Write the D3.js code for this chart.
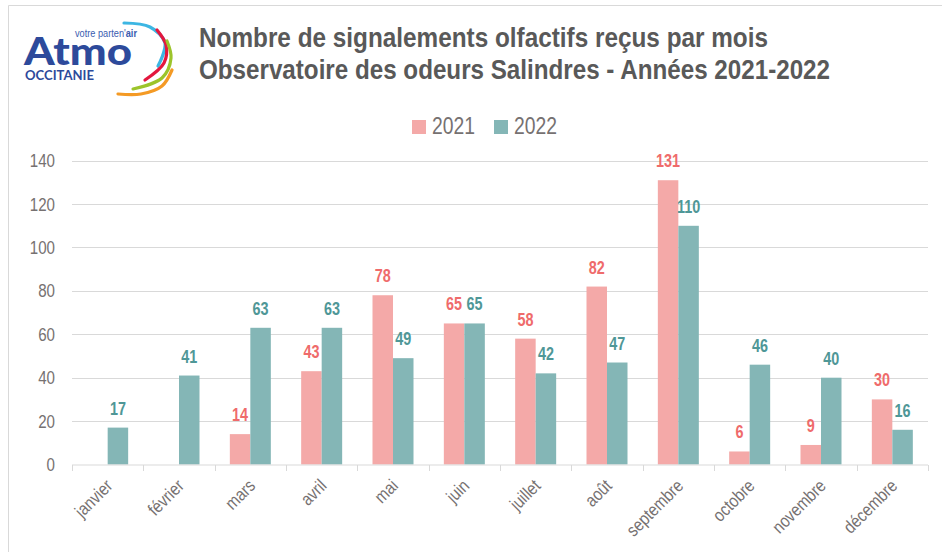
<!DOCTYPE html>
<html lang="fr">
<head>
    <meta charset="UTF-8">
    <script src="https://d3js.org/d3.v7.min.js"></script>
</head>
<style>
    body { margin: 0; background: white; }
    svg { display: block; }
    .narrow { font-family: "Liberation Sans Narrow", "Arial Narrow", "Liberation Sans", sans-serif; }
    .grid line { stroke: #d9d9d9; }
</style>
<body>
<div class="chart"></div>
<script>
    const months = ['janvier', 'février', 'mars', 'avril', 'mai', 'juin', 'juillet', 'août', 'septembre', 'octobre', 'novembre', 'décembre']
    const years = ['2021', '2022']
    const values2021 = [null, null, 14, 43, 78, 65, 58, 82, 131, 6, 9, 30]
    const values2022 = [17, 41, 63, 63, 49, 65, 42, 47, 110, 46, 40, 16]
    const yTicks = [0, 20, 40, 60, 80, 100, 120, 140]
    const titleLines = ['Nombre de signalements olfactifs reçus par mois', 'Observatoire des odeurs Salindres - Années 2021-2022']

    const width = 942, height = 552
    const barColor = { '2021': '#f4a9a8', '2022': '#84b6b6' }
    const labelColor = { '2021': '#ef6b6b', '2022': '#4f9797' }

    // pas de police "narrow" installée : on resserre le texte à la main
    function narrow(sel, f) {
        sel.each(function () {
            const w = this.getComputedTextLength()
            d3.select(this)
                .attr('textLength', w * (f || 0.82))
                .attr('lengthAdjust', 'spacingAndGlyphs')
        })
    }

    const svg = d3.select('.chart').append('svg')
        .attr('width', width)
        .attr('height', height)

    // cadre
    svg.append('path')
        .attr('d', 'M8.5,552V5.5H942')
        .attr('fill', 'none')
        .attr('stroke', '#d9d9d9')

    // logo
    const logo = svg.append('g')
    logo.append('text')
        .attr('x', 24).attr('y', 65)
        .attr('font-family', 'Lato, "Liberation Sans", sans-serif')
        .attr('font-weight', 900)
        .attr('font-size', 38)
        .attr('fill', '#2d4a9b')
        .attr('textLength', 108).attr('lengthAdjust', 'spacingAndGlyphs')
        .text('Atmo')
    logo.append('text')
        .attr('x', 25).attr('y', 80)
        .attr('font-family', 'Lato, "Liberation Sans", sans-serif')
        .attr('font-weight', 700)
        .attr('font-size', 14)
        .attr('fill', '#2d4a9b')
        .attr('textLength', 69).attr('lengthAdjust', 'spacingAndGlyphs')
        .text('OCCITANIE')
    const tag = logo.append('text')
        .attr('x', 75).attr('y', 37)
        .attr('font-family', '"Liberation Sans", sans-serif')
        .attr('font-size', 10)
        .attr('fill', '#3a5bb0')
        .attr('textLength', 62).attr('lengthAdjust', 'spacingAndGlyphs')
    tag.append('tspan').text("votre parten'")
    tag.append('tspan').attr('font-weight', 700).text('air')

    const swoosh = d3.line().curve(d3.curveCatmullRom)
    const arcs = [
        { color: '#3cb6e3', pts: [[124, 23], [150, 27], [165, 43], [158, 66]] },
        { color: '#e3173e', pts: [[157, 30], [166, 45], [164, 63], [145, 80]] },
        { color: '#9cc42b', pts: [[167, 41], [171, 58], [162, 78], [133, 89]] },
        { color: '#f49a25', pts: [[172, 70], [162, 86], [141, 94], [118, 94]] }
    ]
    logo.selectAll('.swoosh')
        .data(arcs)
        .enter().append('path')
        .attr('class', 'swoosh')
        .attr('d', d => swoosh(d.pts))
        .attr('fill', 'none')
        .attr('stroke', d => d.color)
        .attr('stroke-width', 3.2)
        .attr('stroke-linecap', 'round')

    // titre
    const titleWidths = [569, 631]
    svg.selectAll('.title')
        .data(titleLines)
        .enter().append('text')
        .attr('class', 'title')
        .attr('x', 199)
        .attr('y', (d, i) => 47 + i * 31.5)
        .attr('font-family', '"Liberation Sans", sans-serif')
        .attr('font-size', 28)
        .attr('font-weight', 700)
        .attr('fill', '#595959')
        .attr('textLength', (d, i) => titleWidths[i])
        .attr('lengthAdjust', 'spacingAndGlyphs')
        .text(d => d)

    // légende
    const legend = svg.selectAll('.legend')
        .data(years)
        .enter().append('g')
        .attr('class', 'legend')
        .attr('transform', (d, i) => `translate(${412 + i * 82},0)`)
    legend.append('rect')
        .attr('x', 0).attr('y', 120)
        .attr('width', 14).attr('height', 14)
        .attr('fill', d => barColor[d])
    legend.append('text')
        .attr('class', 'narrow')
        .attr('x', 20).attr('y', 134)
        .attr('font-size', 23)
        .attr('fill', '#767171')
        .text(d => d)
        .call(narrow, 0.84)

    // axes
    const x0 = d3.scaleBand().domain(months).range([72, 928])
    const x1 = d3.scaleBand().domain(years).range([0, x0.bandwidth()]).paddingOuter(0.74)
    const y = d3.scaleLinear().domain([0, 140]).range([464.5, 160.7])

    svg.append('g')
        .attr('class', 'grid')
        .selectAll('line')
        .data(yTicks.filter(t => t > 0))
        .enter().append('line')
        .attr('x1', 72).attr('x2', 928)
        .attr('y1', d => Math.round(y(d)) + 0.5)
        .attr('y2', d => Math.round(y(d)) + 0.5)

    svg.selectAll('.ytick')
        .data(yTicks)
        .enter().append('text')
        .attr('class', 'ytick narrow')
        .attr('x', 55)
        .attr('y', d => y(d))
        .attr('dy', '0.36em')
        .attr('text-anchor', 'end')
        .attr('font-size', 18)
        .attr('fill', '#767171')
        .text(d => d)
        .call(narrow, 0.84)

    const series = years.map((yr, k) => ({
        year: yr,
        values: (k === 0 ? values2021 : values2022)
    }))
    const bars = []
    series.forEach(s => s.values.forEach((v, i) => {
        if (v != null) bars.push({ year: s.year, month: months[i], value: v })
    }))

    svg.selectAll('.bar')
        .data(bars)
        .enter().append('rect')
        .attr('class', 'bar')
        .attr('x', d => x0(d.month) + x1(d.year))
        .attr('y', d => y(d.value))
        .attr('width', x1.bandwidth())
        .attr('height', d => y(0) - y(d.value))
        .attr('fill', d => barColor[d.year])

    svg.selectAll('.value')
        .data(bars)
        .enter().append('text')
        .attr('class', 'value narrow')
        .attr('x', d => x0(d.month) + x1(d.year) + x1.bandwidth() / 2)
        .attr('y', d => y(d.value) - 13)
        .attr('text-anchor', 'middle')
        .attr('font-size', 18)
        .attr('font-weight', 700)
        .attr('fill', d => labelColor[d.year])
        .text(d => d.value)
        .call(narrow, 0.8)

    // axe des x
    const xAxis = svg.append('g')
    xAxis.append('line')
        .attr('x1', 72).attr('x2', 928)
        .attr('y1', 465).attr('y2', 465)
        .attr('stroke', '#d9d9d9')
    xAxis.selectAll('.tick')
        .data(months.map(m => x0(m)).concat([928]))
        .enter().append('line')
        .attr('x1', d => Math.round(d) + 0.5).attr('x2', d => Math.round(d) + 0.5)
        .attr('y1', 465).attr('y2', 471)
        .attr('stroke', '#d9d9d9')
    xAxis.selectAll('.xlabel')
        .data(months)
        .enter().append('text')
        .attr('class', 'xlabel narrow')
        .attr('transform', d => `translate(${x0(d) + x0.bandwidth() / 2 + 6},487) rotate(-45)`)
        .attr('text-anchor', 'end')
        .attr('font-size', 18)
        .attr('fill', '#767171')
        .text(d => d)
        .call(narrow, 0.84)
</script>
</body>
</html>
